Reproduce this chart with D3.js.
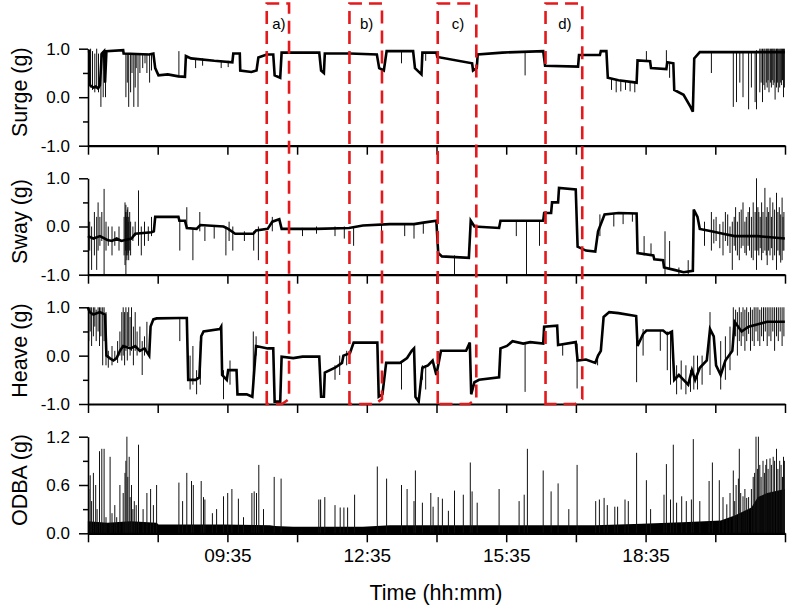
<!DOCTYPE html>
<html>
<head>
<meta charset="utf-8">
<script src="https://cdn.jsdelivr.net/npm/d3@7"></script>
<style>
    body { margin: 0; background: #fff; }
    svg { display: block; font-family: Arial, "Liberation Sans", sans-serif; }
</style>
</head>
<body>
<svg id="chart" width="788" height="608"></svg>
<script>
// time values are decimal hours of the day
const timeStart = 6 + 35 / 60;
const timeEnd = 21 + 35 / 60;
const timeTicks = d3.range(11).map(i => timeStart + 1.5 * i);
const timeTickLabels = ['09:35', '12:35', '15:35', '18:35'];

// [hour, g]
const surgeLevel = [
    [6.58, 0.95], [6.61, 0.95], [6.62, 0.25], [6.70, 0.2], [6.75, 0.22], [6.80, 0.18], [6.84, 0.25],
    [6.88, 0.9], [6.93, 0.95], [6.95, 0.3], [6.98, 0.95], [7.34, 0.97], [7.35, 0.9], [7.90, 0.88],
    [7.99, 0.9], [8.03, 0.6], [8.10, 0.45], [8.30, 0.47], [8.53, 0.43], [8.67, 0.42], [8.69, 0.85],
    [8.80, 0.8], [9.30, 0.75], [9.69, 0.72], [9.71, 0.9], [9.85, 0.9], [9.86, 0.55], [10.10, 0.52],
    [10.21, 0.55], [10.25, 0.82], [10.43, 0.88], [10.57, 0.88], [10.60, 0.45], [10.72, 0.4],
    [10.75, 0.92], [11.56, 0.92], [11.60, 0.55], [11.66, 0.5], [11.68, 0.9], [12.22, 0.9],
    [12.80, 0.88], [12.85, 0.6], [12.95, 0.55], [13.01, 0.95], [13.58, 0.95], [13.62, 0.6],
    [13.76, 0.47], [13.78, 0.92], [14.08, 0.92], [14.10, 0.83], [14.85, 0.7], [14.87, 0.55],
    [14.95, 0.6], [14.97, 0.88], [15.50, 0.92], [16.38, 0.95], [16.42, 0.65], [17.13, 0.63],
    [17.15, 0.87], [17.60, 0.87], [17.62, 0.95], [17.74, 0.95], [17.77, 0.4], [18.0, 0.35],
    [18.39, 0.3], [18.41, 0.76], [18.68, 0.74], [18.70, 0.6], [19.03, 0.58], [19.05, 0.72],
    [19.18, 0.7], [19.20, 0.15], [19.40, 0.05], [19.55, -0.2], [19.60, -0.3], [19.63, 0.8],
    [19.75, 0.93], [21.58, 0.93]
];
// [hour, low g, high g]
const surgeSpikes = [
    [6.64, 0.2, 1.0], [6.68, 0.15, 0.95], [6.73, 0.1, 0.9], [6.77, 0.2, 1.0], [6.81, 0.1, 0.9],
    [6.86, -0.2, 0.9], [6.91, 0.0, 0.95], [6.96, 0.0, 0.95], [7.40, 0.0, 0.9], [7.43, 0.3, 0.9],
    [7.46, -0.2, 0.9], [7.50, 0.1, 0.9], [7.53, 0.5, 0.9], [7.57, -0.2, 0.9], [7.60, 0.2, 0.9],
    [7.62, 0.6, 0.9], [7.66, -0.2, 0.9], [7.70, 0.5, 0.9], [7.76, 0.6, 0.9], [7.81, 0.7, 0.9],
    [7.85, 0.5, 0.9], [7.91, 0.3, 0.9], [7.95, 0.55, 0.9], [8.54, 0.42, 0.95], [8.90, 0.6, 0.8],
    [9.05, 0.65, 0.8], [9.45, 0.6, 0.75], [9.60, 0.62, 0.75], [13.33, 0.7, 0.95], [13.85, 0.75, 0.92],
    [15.99, 0.45, 0.92], [17.85, 0.15, 0.38], [17.95, 0.1, 0.35], [18.05, 0.12, 0.33],
    [18.15, 0.15, 0.32], [18.25, 0.12, 0.3], [18.35, 0.1, 0.3], [18.60, 0.74, 0.95],
    [19.03, 0.58, 0.97], [19.10, 0.4, 0.7], [20.0, 0.5, 0.93], [20.47, -0.2, 0.93],
    [20.54, -0.1, 0.93], [20.61, 0.3, 0.93], [20.68, 0.0, 0.93], [20.80, -0.25, 0.93],
    [20.86, 0.2, 0.95], [20.94, -0.1, 0.95], [20.97, -0.25, 0.97], [21.04, 0.1, 1.0],
    [21.07, 0.3, 1.0], [21.10, -0.1, 1.0], [21.13, 0.25, 1.0], [21.15, 0.15, 1.0], [21.18, 0.3, 1.0],
    [21.20, 0.2, 1.0], [21.22, 0.35, 1.0], [21.24, 0.1, 1.0], [21.27, 0.3, 1.0], [21.29, 0.2, 1.0],
    [21.31, 0.35, 1.0], [21.33, 0.25, 1.0], [21.35, 0.3, 1.0], [21.37, -0.05, 1.0], [21.40, 0.2, 1.0],
    [21.42, 0.3, 1.0], [21.44, 0.1, 1.0], [21.47, 0.2, 1.0], [21.49, 0.3, 1.0], [21.51, 0.25, 1.0],
    [21.53, 0.35, 1.0], [21.55, 0.0, 1.0], [21.57, 0.2, 1.0]
];

const swayLevel = [
    [6.58, -0.2], [6.70, -0.25], [6.84, -0.2], [7.0, -0.28], [7.10, -0.3], [7.20, -0.25], [7.30, -0.3],
    [7.52, -0.25], [7.60, -0.15], [7.95, -0.12], [8.0, -0.1], [8.03, 0.2], [8.53, 0.2], [8.55, 0.12],
    [8.67, 0.12], [8.71, -0.03], [8.92, -0.05], [9.0, 0.03], [9.50, 0.0], [9.60, -0.05], [9.75, -0.15],
    [10.14, -0.15], [10.20, -0.08], [10.45, -0.05], [10.55, 0.1], [10.70, 0.15], [10.75, -0.05],
    [11.5, -0.05], [12.2, -0.03], [12.5, 0.02], [13.08, 0.05], [13.6, 0.05], [13.8, 0.08],
    [14.08, 0.12], [14.12, -0.55], [14.20, -0.62], [14.78, -0.65], [14.82, 0.12], [14.90, 0.0],
    [15.43, -0.03], [15.46, 0.12], [16.38, 0.12], [16.40, 0.28], [16.55, 0.28], [16.57, 0.5],
    [16.70, 0.5], [16.72, 0.8], [17.08, 0.77], [17.12, -0.42], [17.30, -0.5], [17.50, -0.52],
    [17.56, -0.1], [17.70, 0.25], [18.00, 0.28], [18.39, 0.27], [18.41, -0.55], [18.75, -0.6],
    [18.77, -0.68], [18.96, -0.7], [18.98, -0.85], [19.20, -0.9], [19.40, -0.95], [19.60, -0.92],
    [19.62, 0.35], [19.70, 0.2], [19.75, -0.05], [20.0, -0.1], [20.25, -0.15], [20.5, -0.2],
    [21.0, -0.2], [21.58, -0.25]
];
const swaySpikes = [
    [6.62, -0.5, 0.1], [6.66, -0.9, 0.0], [6.72, -0.6, 0.3], [6.77, -0.9, 0.2], [6.80, -0.5, 0.5],
    [6.84, -0.4, 0.2], [6.88, -0.3, 0.3], [6.93, -1.0, 0.78], [6.97, -0.5, 0.1], [7.02, -0.4, 0.0],
    [7.10, -0.6, 0.0], [7.16, -0.4, -0.1], [7.25, -0.5, 0.0], [7.36, -0.6, 0.2], [7.38, -0.8, 0.5],
    [7.39, -0.5, 0.3], [7.40, -1.0, 0.45], [7.41, -0.6, 0.2], [7.42, -0.7, 0.3], [7.43, -0.5, 0.35],
    [7.44, -0.6, 0.4], [7.45, -0.55, 0.1], [7.46, -0.7, 0.2], [7.48, -0.5, 0.3],
    [7.50, -0.6, 0.1], [7.55, -0.3, 0.0], [7.60, -0.2, 0.1], [7.67, -0.4, 0.75], [7.73, -0.6, 0.0],
    [7.80, -0.4, 0.1], [7.88, -0.3, 0.0], [7.95, -0.2, 0.2], [8.56, -0.5, 0.12], [8.71, -0.05, 0.4],
    [8.84, -0.7, -0.05], [8.99, -0.1, 0.3], [9.1, -0.3, 0.0], [9.3, -0.25, 0.0], [9.55, -0.6, 0.0],
    [9.62, -0.3, 0.1], [9.70, -0.5, 0.0], [9.95, -0.3, -0.1], [10.15, -0.5, -0.1], [10.25, -0.7, 0.0],
    [10.55, -0.1, 0.2], [11.2, -0.2, -0.03], [11.5, -0.15, 0.0], [11.9, -0.2, 0.0], [12.1, -0.25, 0.0],
    [12.3, -0.4, 0.0], [12.9, -0.25, 0.05], [13.4, -0.2, 0.05], [13.6, -0.25, 0.05], [13.8, -0.15, 0.08],
    [14.47, -1.0, -0.6], [15.8, -0.2, 0.12], [16.02, -1.0, 0.12], [16.30, -0.4, 0.12],
    [17.60, -0.2, 0.25], [17.9, 0.0, 0.28], [18.1, 0.05, 0.28], [18.3, 0.1, 0.28], [18.55, -0.6, -0.2],
    [18.70, -0.6, -0.35], [19.00, -1.0, -0.1], [19.10, -0.9, -0.3], [19.3, -1.0, -0.85],
    [19.5, -1.0, -0.7], [19.85, -0.4, 0.1], [20.0, -0.5, 0.3], [20.05, -0.35, 0.15], [20.1, -0.3, 0.2],
    [20.18, -0.45, 0.05], [20.25, -0.6, 0.1], [20.30, -0.3, 0.3], [20.35, -0.4, 0.25], [20.40, -0.55, 0.0],
    [20.45, -0.9, 0.1], [20.49, -0.4, 0.2], [20.52, -0.5, 0.4], [20.56, -0.6, 0.1], [20.60, -0.7, 0.3],
    [20.64, -0.45, 0.35], [20.68, -0.4, 0.5], [20.72, -0.55, 0.1], [20.75, -0.6, 0.2], [20.79, -0.4, 0.3],
    [20.82, -0.5, 0.4], [20.86, -0.65, 0.2], [20.90, -0.7, 0.5], [20.94, -0.5, 0.3], [20.97, -0.9, 1.0],
    [21.00, -0.5, 0.4], [21.02, -0.6, 0.3], [21.05, -0.45, 0.2], [21.08, -0.7, 0.5], [21.11, -0.55, 0.3],
    [21.15, -0.5, 0.8], [21.18, -0.6, 0.2], [21.20, -0.8, 0.4], [21.23, -0.5, 0.3], [21.26, -0.6, 0.6],
    [21.29, -0.45, 0.2], [21.32, -0.7, 0.5], [21.36, -0.6, 0.35], [21.40, -0.9, 0.7], [21.43, -0.5, 0.3],
    [21.46, -0.6, 0.4], [21.49, -0.75, 0.25], [21.52, -0.7, 0.6], [21.54, -0.5, 0.2], [21.56, -0.5, 0.3]
];

const heaveLevel = [
    [6.58, 1.0], [6.62, 0.9], [6.70, 0.85], [6.84, 0.9], [6.95, 0.85], [6.98, 0.0], [7.05, -0.05],
    [7.13, -0.1], [7.2, -0.05], [7.27, 0.1], [7.34, 0.2], [7.50, 0.15], [7.60, 0.2], [7.70, 0.1],
    [7.8, 0.15], [7.90, 0.0], [7.93, 0.6], [7.99, 0.75], [8.06, 0.77], [8.56, 0.78], [8.71, 0.78],
    [8.74, -0.5], [8.90, -0.5], [8.98, -0.45], [9.02, 0.4], [9.07, 0.5], [9.42, 0.55], [9.45, 0.6],
    [9.47, -0.4], [9.57, -0.5], [9.60, -0.3], [9.78, -0.3], [9.80, -0.8], [10.00, -0.8],
    [10.12, -0.85], [10.2, 0.2], [10.45, 0.15], [10.57, 0.15], [10.60, -0.95], [10.72, -0.95],
    [10.75, -0.02], [11.0, -0.05], [11.2, -0.02], [11.56, -0.02], [11.60, -0.85], [11.66, -0.85],
    [11.68, -0.35], [11.9, -0.25], [12.05, -0.15], [12.08, 0.0], [12.22, 0.05], [12.30, 0.27],
    [12.81, 0.27], [12.84, -0.85], [12.92, -0.8], [13.0, -0.15], [13.3, -0.15], [13.45, -0.05],
    [13.55, 0.1], [13.60, 0.15], [13.63, -0.85], [13.70, -0.95], [13.78, -0.25], [13.90, -0.2],
    [14.0, -0.1], [14.08, -0.4], [14.18, 0.1], [14.72, 0.1], [14.80, 0.27], [14.83, -0.8],
    [14.90, -0.55], [15.0, -0.5], [15.43, -0.45], [15.46, 0.15], [15.60, 0.2], [15.72, 0.3],
    [15.95, 0.25], [16.1, 0.28], [16.38, 0.25], [16.40, 0.6], [16.68, 0.62], [16.70, 0.22],
    [17.08, 0.28], [17.12, -0.1], [17.30, -0.08], [17.50, -0.15], [17.56, 0.0], [17.62, 0.1],
    [17.68, 0.8], [17.80, 0.9], [18.0, 0.88], [18.38, 0.82], [18.41, 0.2], [18.53, 0.45],
    [18.60, 0.52], [18.96, 0.52], [19.05, 0.45], [19.15, 0.5], [19.20, -0.5], [19.30, -0.4],
    [19.40, -0.5], [19.50, -0.6], [19.58, -0.3], [19.65, -0.5], [19.75, -0.25], [19.90, -0.1],
    [19.97, 0.55], [20.05, 0.4], [20.10, -0.2], [20.20, -0.4], [20.30, -0.1], [20.45, 0.1],
    [20.50, 0.7], [20.65, 0.5], [20.80, 0.6], [21.0, 0.65], [21.2, 0.7], [21.58, 0.7]
];
const heaveSpikes = [
    [6.60, 0.3, 1.0], [6.63, 0.5, 1.0], [6.66, 0.2, 1.0], [6.70, 0.4, 1.0], [6.73, 0.6, 1.0],
    [6.76, 0.3, 0.95], [6.80, 0.5, 1.0], [6.83, 0.2, 1.0], [6.86, 0.4, 1.0], [6.90, -0.2, 1.0],
    [6.93, 0.3, 1.0], [6.97, -0.2, 0.9], [7.02, -0.25, 0.1], [7.10, -0.2, 0.2], [7.16, -0.1, 0.1],
    [7.22, -0.15, 0.3], [7.27, 0.0, 0.5], [7.31, -0.1, 0.9], [7.34, 0.0, 1.0], [7.37, -0.2, 0.9],
    [7.40, 0.1, 1.0], [7.43, -0.1, 0.9], [7.46, 0.2, 1.0], [7.49, 0.0, 0.8], [7.52, 0.1, 1.0],
    [7.56, -0.2, 0.6], [7.60, 0.1, 0.9], [7.64, 0.0, 0.5], [7.70, 0.1, 0.6], [7.75, -0.4, 0.3],
    [7.80, 0.0, 0.4], [7.85, 0.1, 0.7], [8.56, 0.3, 0.78], [8.78, -0.7, 0.0], [8.84, -0.6, 0.2],
    [8.92, -0.8, -0.3], [9.00, -0.6, 0.3], [9.50, -0.9, -0.3], [9.64, -0.6, -0.1], [10.14, -0.6, 0.5],
    [10.20, 0.0, 0.4], [11.9, -0.5, -0.2], [12.0, -0.4, 0.0], [12.15, -0.2, 0.1], [13.33, -0.7, -0.15],
    [13.78, -0.5, -0.2], [13.85, -0.7, -0.2], [15.99, -0.75, 0.25], [16.8, 0.0, 0.25],
    [17.11, -0.68, 0.25], [17.55, -0.2, 0.0], [18.39, -0.55, 0.8], [18.53, 0.0, 0.55], [18.9, 0.1, 0.52],
    [19.05, -0.3, 0.5], [19.12, -0.6, 0.5], [19.25, -0.8, -0.2], [19.35, -0.7, -0.1], [19.45, -0.8, -0.2],
    [19.55, -0.75, -0.3], [19.62, -0.7, 0.0], [19.70, -0.7, 0.0], [19.80, -0.6, 0.0], [19.97, -0.4, 0.9],
    [20.20, -0.7, 0.3], [20.30, -0.5, 0.4], [20.40, -0.3, 0.6], [20.47, 0.2, 1.0], [20.52, 0.4, 0.95],
    [20.56, 0.0, 0.9], [20.60, 0.3, 1.0], [20.64, 0.2, 0.9], [20.68, 0.4, 1.0], [20.72, 0.1, 0.95],
    [20.76, 0.3, 1.0], [20.80, 0.45, 0.9], [20.84, 0.1, 1.0], [20.88, 0.3, 0.95], [20.92, 0.2, 1.0],
    [20.96, 0.5, 1.0], [21.00, 0.3, 1.0], [21.04, 0.2, 0.95], [21.08, 0.4, 1.0], [21.12, 0.3, 1.0],
    [21.16, 0.5, 1.0], [21.20, 0.2, 1.0], [21.24, 0.4, 1.0], [21.28, 0.3, 1.0], [21.32, 0.5, 1.0],
    [21.36, 0.1, 1.0], [21.40, 0.4, 1.0], [21.44, 0.3, 1.0], [21.48, 0.5, 1.0], [21.52, 0.2, 1.0],
    [21.56, 0.4, 1.0]
];

// ODBA floor (dense band) and peaks, [hour, g]
const odbaLevel = [
    [6.58, 0.15], [7.0, 0.13], [7.5, 0.15], [8.06, 0.13], [8.1, 0.11], [9.5, 0.11], [10.5, 0.1],
    [10.6, 0.09], [11.0, 0.08], [12.5, 0.08], [13.08, 0.1], [15.0, 0.1], [17.5, 0.1], [18.5, 0.12],
    [19.5, 0.14], [20.2, 0.16], [20.5, 0.22], [20.86, 0.32], [21.0, 0.45], [21.2, 0.5], [21.58, 0.55]
];
const odbaSpikes = [
    [6.60, 0.55], [6.63, 0.72], [6.66, 0.4], [6.70, 0.75], [6.75, 0.6], [6.78, 0.3], [6.83, 1.02],
    [6.88, 1.05], [6.93, 1.05], [6.97, 0.2], [7.06, 0.95], [7.10, 0.25], [7.16, 0.35], [7.20, 0.2],
    [7.27, 0.6], [7.34, 0.5], [7.38, 0.75], [7.40, 0.9], [7.42, 1.2], [7.44, 0.7], [7.47, 0.95],
    [7.49, 0.45], [7.52, 0.6], [7.55, 0.3], [7.58, 0.4], [7.62, 0.35], [7.67, 1.1], [7.77, 0.3],
    [7.85, 0.5], [7.93, 0.55], [7.99, 0.35], [8.06, 0.6], [8.54, 0.63], [8.62, 0.4], [8.71, 0.75],
    [8.81, 0.65], [8.85, 0.6], [9.02, 0.65], [9.07, 0.45], [9.10, 0.42], [9.26, 0.25], [9.35, 0.3],
    [9.50, 0.46], [9.59, 0.5], [9.68, 0.55], [9.82, 0.43], [9.93, 0.2], [10.11, 0.5], [10.16, 0.52],
    [10.21, 0.5], [10.26, 0.85], [10.36, 0.3], [10.59, 0.7], [10.74, 0.68], [11.55, 0.42],
    [11.59, 0.42], [11.68, 0.45], [11.90, 0.35], [12.01, 0.32], [12.09, 0.32], [12.17, 0.32],
    [12.32, 0.48], [12.81, 0.83], [13.01, 0.68], [13.33, 0.6], [13.45, 0.55], [13.60, 0.4],
    [13.63, 0.78], [13.78, 0.38], [13.96, 0.5], [14.01, 0.33], [14.12, 0.45], [14.21, 0.43],
    [14.34, 0.28], [14.47, 0.53], [14.66, 0.48], [14.81, 0.88], [14.85, 0.52], [14.96, 0.38],
    [15.43, 0.55], [15.86, 0.4], [15.97, 0.48], [16.04, 1.05], [16.38, 0.78], [16.55, 0.52],
    [16.70, 0.62], [16.93, 0.3], [17.11, 0.85], [17.51, 0.4], [17.59, 0.42], [17.69, 0.44],
    [17.76, 0.35], [17.92, 0.33], [17.98, 0.33], [18.14, 0.42], [18.21, 0.4], [18.39, 1.0],
    [18.60, 0.66], [18.69, 0.3], [18.98, 0.48], [19.03, 0.86], [19.12, 0.42], [19.18, 1.1],
    [19.25, 0.38], [19.36, 0.46], [19.46, 0.4], [19.57, 0.42], [19.61, 1.17], [19.75, 0.4],
    [19.95, 0.65], [20.02, 0.88], [20.17, 0.66], [20.25, 0.45], [20.33, 0.36], [20.40, 0.5],
    [20.47, 0.78], [20.50, 0.4], [20.53, 0.6], [20.58, 0.68], [20.60, 1.05], [20.63, 0.5],
    [20.68, 0.46], [20.72, 0.55], [20.76, 0.44], [20.80, 0.45], [20.86, 0.55], [20.90, 0.7],
    [20.93, 0.75], [20.96, 1.2], [20.99, 0.8], [21.01, 1.2], [21.04, 0.85], [21.07, 0.7],
    [21.11, 0.9], [21.14, 0.75], [21.17, 0.85], [21.19, 0.92], [21.22, 0.8], [21.26, 0.93],
    [21.29, 0.85], [21.33, 0.95], [21.36, 0.9], [21.40, 1.05], [21.43, 0.8], [21.47, 0.9],
    [21.50, 0.85], [21.53, 0.7], [21.55, 0.95], [21.57, 0.9]
];

const boxes = [
    { label: 'a)', from: 10.43, to: 10.91 },
    { label: 'b)', from: 12.21, to: 12.91 },
    { label: 'c)', from: 14.11, to: 14.94 },
    { label: 'd)', from: 16.43, to: 17.22 }
];

const panels = [
    { title: 'Surge (g)', level: surgeLevel, spikes: surgeSpikes, domain: [-1, 1], ticks: [-1, 0, 1], minor: [-0.5, 0.5], top: 48.7, bottom: 145.7 },
    { title: 'Sway (g)', level: swayLevel, spikes: swaySpikes, domain: [-1, 1], ticks: [-1, 0, 1], minor: [-0.5, 0.5], top: 178.3, bottom: 274.7 },
    { title: 'Heave (g)', level: heaveLevel, spikes: heaveSpikes, domain: [-1, 1], ticks: [-1, 0, 1], minor: [-0.5, 0.5], top: 307.3, bottom: 404 },
    { title: 'ODBA (g)', level: odbaLevel, spikes: odbaSpikes, domain: [0, 1.2], ticks: [0, 0.6, 1.2], minor: [0.3, 0.9], top: 436.7, bottom: 533.3, area: true }
];

const svg = d3.select('#chart');
const x = d3.scaleLinear().domain([timeStart, timeEnd]).range([88, 785]);

function hhmm(h) {
    const m = Math.round(h * 60);
    return d3.format('02d')(Math.floor(m / 60)) + ':' + d3.format('02d')(m % 60);
}

panels.forEach((p, i) => {
    const y = d3.scaleLinear().domain(p.domain).range([p.bottom, p.top]);
    const g = svg.append('g');

    if (p.area) {
        g.append('path')
            .datum(p.level)
            .attr('d', d3.area().x(d => x(d[0])).y0(y(0)).y1(d => y(d[1])))
            .attr('fill', '#000');
        g.append('path')
            .attr('d', p.spikes.map(d => `M${x(d[0]).toFixed(1)},${y(0)}V${y(d[1]).toFixed(1)}`).join(''))
            .attr('stroke', '#111').attr('stroke-width', 1).attr('fill', 'none');
    } else {
        g.append('path')
            .attr('d', p.spikes.map(d => `M${x(d[0]).toFixed(1)},${y(d[1]).toFixed(1)}V${y(d[2]).toFixed(1)}`).join(''))
            .attr('stroke', '#111').attr('stroke-width', 1).attr('fill', 'none');
        g.append('path')
            .datum(p.level)
            .attr('d', d3.line().x(d => x(d[0])).y(d => y(d[1])))
            .attr('stroke', '#000').attr('stroke-width', 2.6).attr('fill', 'none');
    }

    // bottom time axis
    const isLast = i === panels.length - 1;
    const xAxis = g.append('g')
        .attr('transform', `translate(0,${p.bottom})`)
        .call(d3.axisBottom(x).tickValues(timeTicks).tickSize(9).tickSizeOuter(0)
            .tickFormat(d => isLast && timeTickLabels.includes(hhmm(d)) ? hhmm(d) : ''));
    xAxis.select('.domain').attr('stroke-width', 2.2);
    xAxis.selectAll('.tick line').attr('stroke-width', 1.5);
    xAxis.selectAll('text').attr('font-size', 19).attr('font-family', 'Arial, "Liberation Sans", sans-serif')
        .attr('fill', '#000').attr('dy', '0.95em').attr('y', 11);

    // left value axis
    const yAxis = g.append('g')
        .attr('transform', 'translate(88,0)')
        .call(d3.axisLeft(y).tickValues(p.ticks).tickSize(9).tickSizeOuter(0).tickFormat(d => d.toFixed(1)));
    yAxis.select('.domain').attr('stroke-width', 1.6);
    yAxis.selectAll('.tick line').attr('stroke-width', 1.5);
    yAxis.selectAll('text').attr('font-size', 17).attr('font-family', 'Arial, "Liberation Sans", sans-serif')
        .attr('fill', '#000').attr('x', -18);
    const yMinor = g.append('g')
        .attr('transform', 'translate(88,0)')
        .call(d3.axisLeft(y).tickValues(p.minor).tickSize(5).tickFormat(''));
    yMinor.select('.domain').remove();
    yMinor.selectAll('.tick line').attr('stroke-width', 1.5);

    g.append('text')
        .attr('transform', `translate(27,${(p.top + p.bottom) / 2 - 5}) rotate(-90)`)
        .attr('text-anchor', 'middle')
        .attr('font-size', 21.5)
        .text(p.title);
});

svg.append('text')
    .attr('x', 436).attr('y', 600)
    .attr('text-anchor', 'middle')
    .attr('font-size', 21.5)
    .text('Time (hh:mm)');

// red dashed highlight boxes
const boxTop = 3.5, boxBottom = 404;
boxes.forEach(b => {
    const l = x(b.from), r = x(b.to);
    svg.append('path')
        .attr('d', `M${l},${boxBottom}V${boxTop}H${r}V${boxBottom - 5}L${r - 7},${boxBottom}Z`)
        .attr('fill', 'none')
        .attr('stroke', '#e3191c')
        .attr('stroke-width', 2.6)
        .attr('stroke-dasharray', '13,7');
    svg.append('text')
        .attr('x', (l + r) / 2 + 1).attr('y', 29)
        .attr('text-anchor', 'middle')
        .attr('font-size', 15)
        .text(b.label);
});
</script>
</body>
</html>
